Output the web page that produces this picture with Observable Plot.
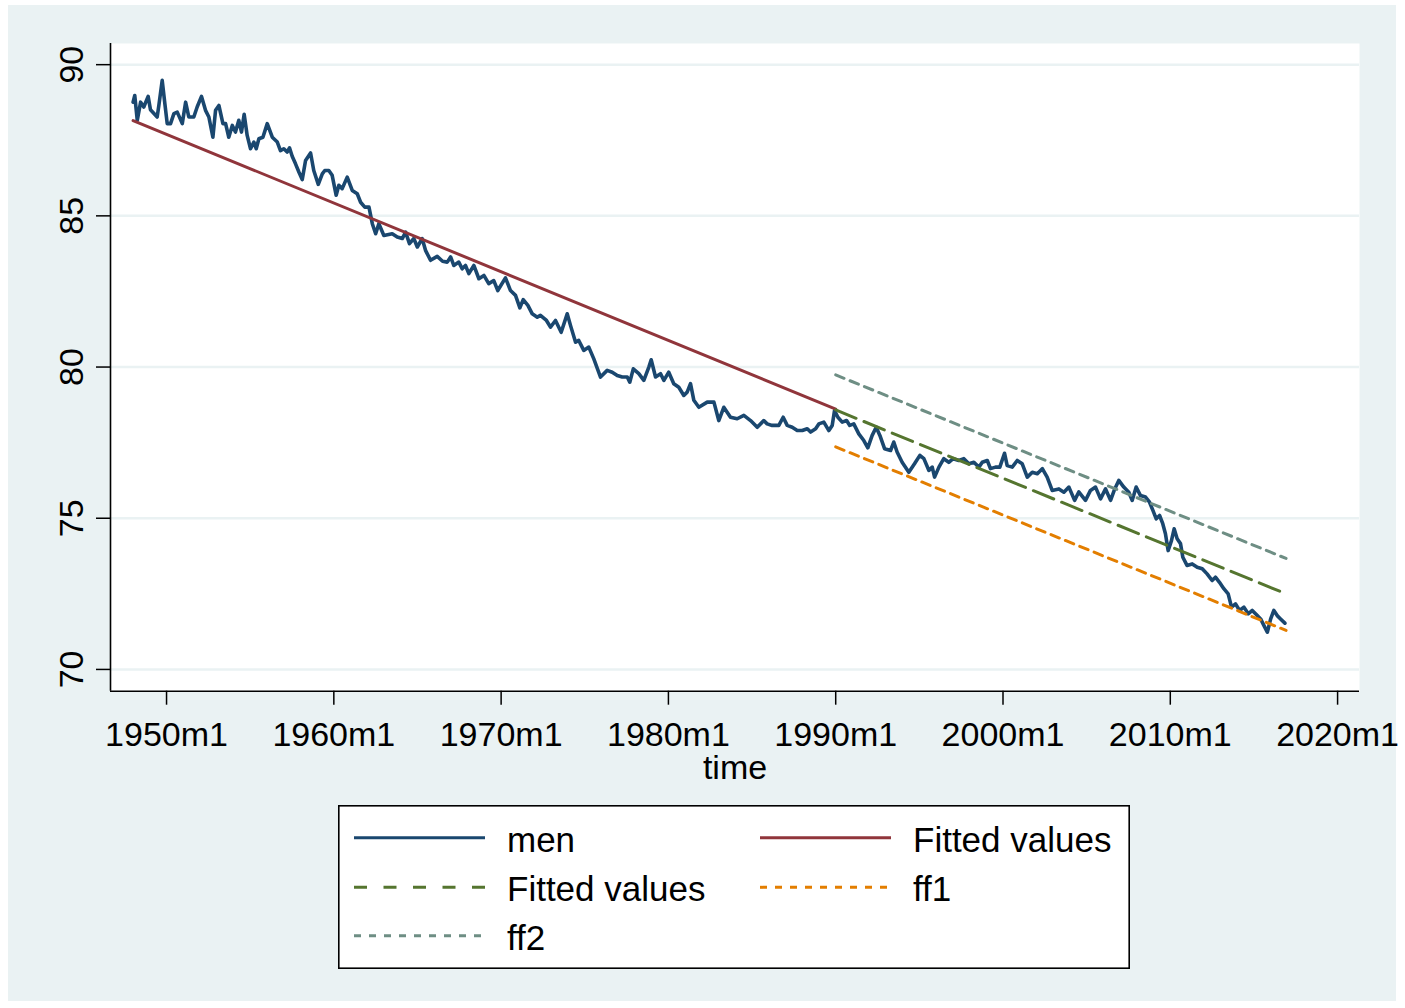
<!DOCTYPE html>
<html><head><meta charset="utf-8">
<script src="https://cdn.jsdelivr.net/npm/d3@7"></script>
<script src="https://cdn.jsdelivr.net/npm/@observablehq/plot@0.6"></script>
<style>
html,body{margin:0;padding:0;background:#fff;overflow:hidden;width:1405px;height:1008px;}
#bg{position:absolute;left:8px;top:5px;width:1388px;height:996px;background:#eaf2f3;}
#chart{position:absolute;left:0;top:0;}
#legend{position:absolute;left:338px;top:805px;}
</style></head><body>
<div id="bg"></div><div id="chart"></div><div id="legend"></div>
<script>
// ---- data ----
const menYear = [1948.00,1948.10,1948.25,1948.45,1948.64,1948.90,1949.04,1949.44,1949.54,1949.74,1949.90,1950.04,1950.24,1950.44,1950.64,1950.94,1951.14,1951.33,1951.63,1951.83,1952.09,1952.33,1952.53,1952.77,1952.93,1953.13,1953.37,1953.53,1953.72,1953.93,1954.12,1954.32,1954.48,1954.64,1954.82,1955.02,1955.22,1955.36,1955.52,1955.76,1956.02,1956.32,1956.62,1956.81,1957.01,1957.21,1957.35,1957.51,1957.71,1957.91,1958.11,1958.31,1958.61,1958.80,1959.07,1959.31,1959.46,1959.70,1959.90,1960.14,1960.30,1960.50,1960.80,1961.10,1961.40,1961.60,1961.85,1962.10,1962.30,1962.50,1962.69,1962.99,1963.49,1963.79,1964.09,1964.29,1964.52,1964.78,1964.99,1965.28,1965.48,1965.78,1966.18,1966.50,1966.78,1966.98,1967.17,1967.47,1967.67,1967.87,1968.07,1968.37,1968.67,1968.97,1969.26,1969.56,1969.80,1970.26,1970.56,1970.86,1971.12,1971.32,1971.60,1971.86,1972.16,1972.35,1972.71,1972.95,1973.25,1973.59,1973.95,1974.15,1974.45,1974.64,1974.94,1975.24,1975.54,1975.94,1976.34,1976.64,1976.94,1977.24,1977.54,1977.69,1977.90,1978.23,1978.53,1978.83,1978.97,1979.23,1979.53,1979.73,1980.02,1980.32,1980.62,1980.92,1981.12,1981.32,1981.52,1981.82,1982.32,1982.72,1983.01,1983.31,1983.71,1984.11,1984.51,1984.91,1985.31,1985.70,1985.90,1986.20,1986.60,1986.86,1987.10,1987.40,1987.70,1988.00,1988.30,1988.50,1988.80,1988.99,1989.29,1989.59,1989.79,1989.93,1990.13,1990.39,1990.65,1990.84,1991.08,1991.38,1991.68,1991.92,1992.18,1992.42,1992.64,1992.92,1993.28,1993.47,1993.67,1993.97,1994.37,1994.71,1995.03,1995.27,1995.57,1995.77,1995.91,1996.17,1996.46,1996.76,1997.02,1997.36,1997.66,1997.96,1998.26,1998.56,1998.76,1999.06,1999.25,1999.55,1999.81,2000.09,2000.25,2000.55,2000.85,2001.15,2001.45,2001.75,2002.05,2002.35,2002.64,2002.94,2003.34,2003.64,2003.94,2004.28,2004.53,2004.93,2005.23,2005.53,2005.83,2006.13,2006.43,2006.68,2006.92,2007.22,2007.52,2007.72,2007.96,2008.22,2008.52,2008.76,2008.96,2009.16,2009.36,2009.55,2009.71,2009.87,2010.07,2010.23,2010.41,2010.61,2010.75,2011.00,2011.31,2011.61,2011.91,2012.20,2012.50,2012.70,2012.94,2013.20,2013.46,2013.66,2013.90,2014.14,2014.40,2014.66,2014.90,2015.20,2015.40,2015.60,2015.80,2016.00,2016.19,2016.39,2016.59,2016.85];
const menValue = [88.76,88.98,88.16,88.76,88.60,88.95,88.51,88.27,88.65,89.48,88.71,88.05,88.05,88.38,88.43,88.05,88.76,88.27,88.27,88.60,88.95,88.49,88.27,87.60,88.49,88.65,88.05,88.05,87.60,87.99,87.77,88.16,87.77,88.36,87.66,87.22,87.44,87.22,87.55,87.60,88.05,87.60,87.44,87.16,87.22,87.11,87.25,86.97,86.72,86.45,86.20,86.83,87.08,86.50,86.04,86.39,86.50,86.50,86.34,85.68,86.01,85.90,86.28,85.84,85.73,85.45,85.29,85.29,84.74,84.41,84.74,84.35,84.41,84.30,84.25,84.46,84.08,84.25,83.97,84.25,83.86,83.53,83.66,83.50,83.47,83.64,83.36,83.47,83.25,83.36,83.09,83.36,82.92,83.03,82.76,82.86,82.53,82.95,82.53,82.37,81.96,82.23,82.04,81.76,81.65,81.71,81.54,81.32,81.54,81.15,81.76,81.37,80.82,80.88,80.55,80.66,80.27,79.67,79.89,79.83,79.72,79.67,79.67,79.50,79.94,79.78,79.56,80.00,80.24,79.67,79.78,79.56,79.83,79.45,79.33,79.06,79.17,79.45,78.90,78.67,78.84,78.84,78.23,78.67,78.34,78.29,78.40,78.23,78.01,78.23,78.12,78.07,78.07,78.34,78.07,78.01,77.90,77.90,77.96,77.85,77.96,78.12,78.18,77.90,78.07,78.56,78.34,78.18,78.23,78.07,78.12,77.79,77.57,77.33,77.74,78.01,77.74,77.30,77.24,77.52,77.19,76.85,76.52,76.80,77.08,76.97,76.58,76.69,76.36,76.69,76.97,76.85,76.97,76.91,76.97,76.80,76.85,76.69,76.85,76.91,76.64,76.69,76.69,77.15,76.74,76.69,76.91,76.80,76.36,76.52,76.47,76.64,76.36,75.92,75.97,75.86,76.03,75.59,75.87,75.59,75.92,76.03,75.64,75.97,75.59,75.97,76.25,76.03,75.86,75.59,76.03,75.75,75.70,75.53,75.26,74.98,75.09,74.82,74.49,73.93,74.26,74.65,74.32,74.16,73.71,73.44,73.49,73.38,73.33,73.16,72.94,73.05,72.88,72.67,72.50,72.06,72.17,71.95,72.06,71.84,71.95,71.78,71.67,71.45,71.23,71.67,71.95,71.78,71.67,71.53];
const fitYear = [1948.0, 1990.0];
const fitValue = [88.15, 78.61];
const fit2Year = [1990.0, 2016.92];
const fit2Value = [78.58, 72.50];
const ff1Value = [77.36, 71.29];
const ff2Value = [79.74, 73.67];
const xTicks = [1950, 1960, 1970, 1980, 1990, 2000, 2010, 2020];
const yTicks = [70, 75, 80, 85, 90];
const legendLabels = ["men", "Fitted values", "Fitted values", "ff1", "ff2"];

// ---- styles ----
const C = {men:"#1a476f", fit:"#90353b", fit2:"#55752f", ff1:"#e37e00", ff2:"#6e8e84"};
const BG = "#eaf2f3";
const FONT = "'Liberation Sans', Arial, Helvetica, sans-serif";
const FS = 34;

const xDom = [1946.65, 2021.31], yDom = [69.28, 90.70];
const W = 1405, H = 800;
const rows = (xs, ys) => xs.map((t, i) => ({t, v: ys[i]}));

const chart = Plot.plot({
  width: W, height: H,
  marginLeft: 110, marginRight: 46, marginTop: 43, marginBottom: H - 690.7,
  x: {domain: xDom}, y: {domain: yDom},
  style: {background: "transparent", fontFamily: FONT, fontSize: FS + "px", color: "black"},
  marks: [
    Plot.frame({fill: "white", stroke: "none"}),
    Plot.ruleY(yTicks, {stroke: BG, strokeWidth: 2.5}),
    Plot.line(rows(menYear, menValue), {x: "t", y: "v", stroke: C.men, strokeWidth: 3.6, strokeLinejoin: "round"}),
    Plot.line(rows(fitYear, fitValue), {x: "t", y: "v", stroke: C.fit, strokeWidth: 3}),
    Plot.line(rows(fit2Year, fit2Value), {x: "t", y: "v", stroke: C.fit2, strokeWidth: 3, strokeDasharray: "22,8.5"}),
    Plot.line(rows(fit2Year, ff1Value), {x: "t", y: "v", stroke: C.ff1, strokeWidth: 3, strokeDasharray: "9,6.5"}),
    Plot.line(rows(fit2Year, ff2Value), {x: "t", y: "v", stroke: C.ff2, strokeWidth: 3, strokeDasharray: "9,6.5"}),
    Plot.ruleX([xDom[0]], {stroke: "black", strokeWidth: 1.6}),
    Plot.ruleY([yDom[0]], {stroke: "black", strokeWidth: 1.6}),
    Plot.axisX({ticks: xTicks, tickSize: 14, tickFormat: () => "", label: null, strokeWidth: 1.5}),
    Plot.axisY({ticks: yTicks, tickSize: 14, tickFormat: () => "", label: null, strokeWidth: 1.5}),
    Plot.text(xTicks, {x: d => d, frameAnchor: "bottom", dy: 31, lineAnchor: "top", text: d => `${d}m1`, fontSize: FS, fill: "black"}),
    Plot.text(yTicks, {y: d => d, frameAnchor: "left", dx: -28, rotate: -90, lineAnchor: "bottom", textAnchor: "middle", text: d => String(d), fontSize: FS, fill: "black"}),
    Plot.text(["time"], {frameAnchor: "bottom", dy: 77, lineAnchor: "middle", text: d => d, fontSize: FS, fill: "black"})
  ]
});
document.getElementById("chart").appendChild(chart);

// ---- legend ----
const LW = 792, LH = 164;
const leg = d3.select("#legend").append("svg").attr("width", LW).attr("height", LH)
  .style("font-family", FONT).style("font-size", "35px");
leg.append("rect").attr("x", 0.8).attr("y", 0.8).attr("width", LW - 1.6).attr("height", LH - 1.6)
  .attr("fill", "white").attr("stroke", "black").attr("stroke-width", 1.6);
const items = [
  {label: legendLabels[0], color: C.men, dash: null, r: 0, c: 0},
  {label: legendLabels[1], color: C.fit, dash: null, r: 0, c: 1},
  {label: legendLabels[2], color: C.fit2, dash: "13,16.5", r: 1, c: 0},
  {label: legendLabels[3], color: C.ff1, dash: "7,8", r: 1, c: 1},
  {label: legendLabels[4], color: C.ff2, dash: "7,8", r: 2, c: 0}
];
const rowY = [32.7, 82.3, 130.7];
const colX = [16, 422];
items.forEach(it => {
  const y = rowY[it.r], x0 = colX[it.c];
  const ln = leg.append("line").attr("x1", x0).attr("x2", x0 + 131).attr("y1", y).attr("y2", y)
    .attr("stroke", it.color).attr("stroke-width", 3);
  if (it.dash) ln.attr("stroke-dasharray", it.dash);
  leg.append("text").attr("x", x0 + 153).attr("y", y + 14).attr("fill", "black").text(it.label);
});
</script>
</body></html>
